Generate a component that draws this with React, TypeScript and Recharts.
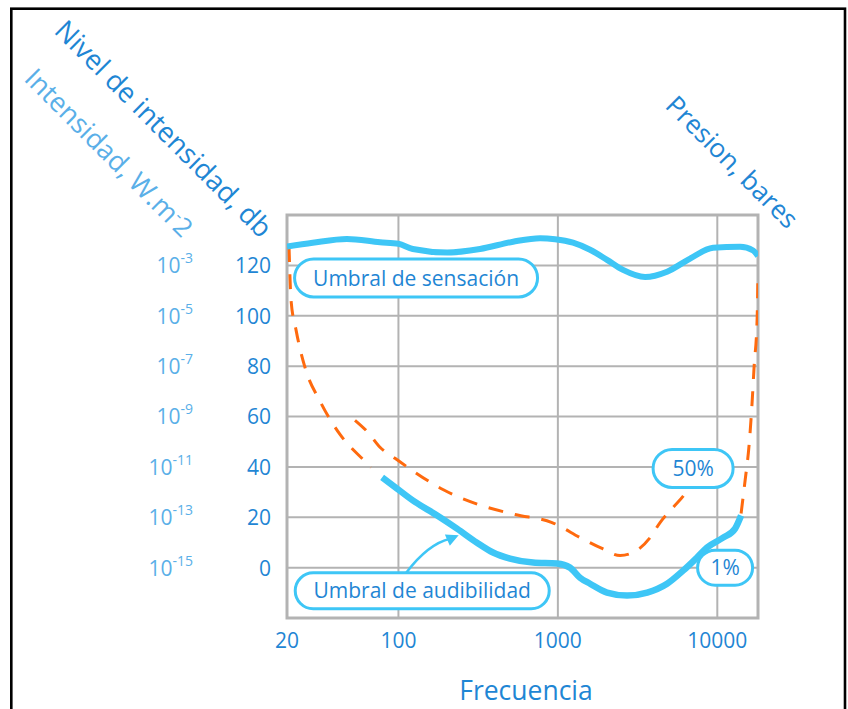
import React from "react";
import {
  LineChart,
  Line,
  XAxis,
  YAxis,
  CartesianGrid,
  ReferenceArea,
  ReferenceDot,
} from "recharts";

// Campo auditivo: umbral de sensación / audibilidad (Hz vs dB)
const FONT = "'Open Sans', 'Noto Sans', sans-serif";
const BLUE = "#1f86d4";
const LIGHT_BLUE = "#5aafe8";
const CYAN = "#3ec6f6";
const ORANGE = "#ff6a0e";
const GRID = "#b3b3b3";

const freqTicks = [20, 100, 1000, 10000];
const dbTicks = [0, 20, 40, 60, 80, 100, 120];
const intensidadExp = [-15, -13, -11, -9, -7, -5, -3];
const presionLabels = ["0,0002", "0,002", "0,02", "0,2", "2", "20", "200"];

// Umbral de sensación
const sensacionFreq = [20, 29, 47.5, 76.6, 100, 123, 202, 325, 524, 773, 960, 1245, 1592, 2034, 2563, 3523, 4842, 6750, 9410, 13900, 16780, 18000];
const sensacionDb = [127.5, 129.0, 130.5, 129.2, 128.6, 126.5, 125.1, 126.5, 129.4, 130.8, 130.4, 129.0, 126.2, 122.2, 118.2, 115.4, 117.5, 122.7, 127.0, 127.4, 125.9, 123.7];

// Umbral de audibilidad (1%)
const audibFreq = [79, 92.5, 123, 175, 233, 311, 392, 501, 699, 988, 1192, 1377, 1592, 2034, 2716, 3631, 4842, 6100, 7460, 8630, 10870, 12930, 14100];
const audibDb = [35.8, 32.6, 26.7, 20.7, 15.5, 9.9, 6.0, 3.6, 2.0, 1.6, 0, -4.0, -6.4, -9.9, -11.1, -9.9, -6.4, -1.2, 4.0, 8.0, 11.9, 15.5, 20.7];

// curva 50%
const medioFreq = [53.4, 64.4, 76.6, 95.2, 122, 190, 316, 538, 919, 1419, 1893, 2455, 2962, 3788, 4375, 5280, 6280, 7050];
const medioDb = [58.5, 53.7, 47.8, 43.4, 38.6, 31.0, 25.1, 21.1, 17.9, 11.5, 7.6, 4.8, 6.0, 11.9, 17.9, 23.9, 29.4, 34.6];

// límites laterales (discontinuos)
const gravesFreq = [20.6, 21.2, 22.8, 25.9, 32.2, 43.0, 61.7, 67.3];
const gravesDb = [127.3, 106.2, 94.3, 79.6, 66.1, 52.9, 42.2, 39.8];
const agudosFreq = [14100, 14940, 15820, 16520, 17010, 17780, 18000];
const agudosDb = [21.5, 34.6, 48.5, 65.3, 79.6, 99.1, 117.4];

// etiquetas
const notaTextos = ["Umbral de sensación", "Umbral de audibilidad", "50%", "1%"];
const notaFreq = [129, 141, 7050, 11190];
const notaDb = [115, -9.2, 39.4, 0];
const notaSize = [
  { w: 243, h: 38 },
  { w: 254, h: 36 },
  { w: 80, h: 38 },
  { w: 55, h: 35 },
];

const toPoints = (f: number[], db: number[]) => f.map((v, i) => ({ f: v, db: db[i] }));

const DbTick = (props: any) => {
  const { x, y, payload } = props;
  const idx = dbTicks.indexOf(payload.value);
  return (
    <g fontFamily={FONT}>
      <text x={x} y={y} dy="0.38em" textAnchor="end" fontSize={21} fill={BLUE}>
        {payload.value}
      </text>
      <text x={x - 78} y={y} dy="0.38em" textAnchor="end" fontSize={21} fill={LIGHT_BLUE}>
        10
        <tspan dy={-10} fontSize={14}>
          {intensidadExp[idx]}
        </tspan>
      </text>
    </g>
  );
};

const Bubble = (props: any) => {
  const { cx, cy, i } = props;
  const { w, h } = notaSize[i];
  return (
    <g>
      <rect x={cx - w / 2} y={cy - h / 2} width={w} height={h} rx={h / 2} fill="#fff" stroke={CYAN} strokeWidth={3} />
      <text x={cx} y={cy} dy="0.36em" textAnchor="middle" fontSize={21} fill={BLUE} fontFamily={FONT}>
        {notaTextos[i]}
      </text>
      {i === 1 && (
        <g>
          <path d={`M${cx - 16},${cy - 18} Q${cx + 6},${cy - 47} ${cx + 28},${cy - 52}`} fill="none" stroke={CYAN} strokeWidth={2.5} />
          <polygon
            points={`${cx + 35},${cy - 55} ${cx + 27.8},${cy - 46.4} ${cx + 23.8},${cy - 55.6}`}
            fill={CYAN}
            stroke={CYAN}
            strokeWidth={1.5}
          />
        </g>
      )}
    </g>
  );
};

export default function App() {
  return (
    <div style={{ position: "absolute", left: 0, top: 0, width: 848, height: 709, background: "#fff" }}>
      <LineChart width={848} height={709} margin={{ top: 215, right: 0, bottom: 0, left: 127 }}>
        <CartesianGrid stroke={GRID} strokeWidth={2} />
        <XAxis
          dataKey="f"
          type="number"
          scale="log"
          domain={[20, 18000]}
          ticks={freqTicks}
          allowDataOverflow
          height={91}
          axisLine={false}
          tickLine={false}
          tickSize={0}
          tickMargin={15}
          tick={{ fill: BLUE, fontSize: 21, fontFamily: FONT }}
        />
        <YAxis
          type="number"
          domain={[-20, 140]}
          ticks={dbTicks}
          width={160}
          axisLine={false}
          tickLine={false}
          tickSize={0}
          tickMargin={16}
          tick={<DbTick />}
        />
        <YAxis
          yAxisId="p"
          orientation="right"
          type="number"
          domain={[-20, 140]}
          ticks={dbTicks}
          width={90}
          axisLine={false}
          tickLine={false}
          tickSize={0}
          tickMargin={19}
          tickFormatter={(v: number) => presionLabels[dbTicks.indexOf(v)]}
          tick={{ fill: BLUE, fontSize: 21, fontFamily: FONT, textAnchor: "start" }}
        />
        <ReferenceArea x1={20} x2={18000} y1={-20} y2={140} fill="none" stroke={GRID} strokeWidth={3} />

        <Line data={toPoints(gravesFreq, gravesDb)} dataKey="db" type="monotone" stroke={ORANGE} strokeWidth={3} strokeDasharray="15 12" dot={false} isAnimationActive={false} />
        <Line data={toPoints(medioFreq, medioDb)} dataKey="db" type="monotone" stroke={ORANGE} strokeWidth={3} strokeDasharray="15 12" dot={false} isAnimationActive={false} />
        <Line data={toPoints(agudosFreq, agudosDb)} dataKey="db" type="monotone" stroke={ORANGE} strokeWidth={3} strokeDasharray="15 12" dot={false} isAnimationActive={false} />
        <Line data={toPoints(sensacionFreq, sensacionDb)} dataKey="db" type="monotone" stroke={CYAN} strokeWidth={6} dot={false} isAnimationActive={false} />
        <Line data={toPoints(audibFreq, audibDb)} dataKey="db" type="monotone" stroke={CYAN} strokeWidth={6.5} dot={false} isAnimationActive={false} />

        {notaTextos.map((t, i) => (
          <ReferenceDot
            key={t}
            x={notaFreq[i]}
            y={notaDb[i]}
            r={1}
            shape={(p: any) => <Bubble cx={p.cx} cy={p.cy} i={i} />}
          />
        ))}
      </LineChart>

      <svg width={848} height={709} style={{ position: "absolute", left: 0, top: 0, pointerEvents: "none" }}>
        <rect x={11.3} y={8.7} width={833.7} height={720} fill="none" stroke="#000" strokeWidth={2.6} />
        <g fontFamily={FONT}>
          <text x={53} y={32} transform="rotate(45 53 32)" fontSize={27.5} fill={BLUE}>
            Nivel de intensidad, db
          </text>
          <text x={23} y={80} transform="rotate(45 23 80)" fontSize={27} fill={LIGHT_BLUE}>
            Intensidad, W.m
            <tspan dy={-9} fontSize={17}>-</tspan>
            <tspan dy={9} fontSize={26}>2</tspan>
          </text>
          <text x={664} y={107} transform="rotate(45 664 107)" fontSize={26.2} fill={BLUE}>
            Presion, bares
          </text>
          <text x={526} y={700} textAnchor="middle" fontSize={26.5} fill={BLUE}>
            Frecuencia
          </text>
        </g>
      </svg>
    </div>
  );
}
